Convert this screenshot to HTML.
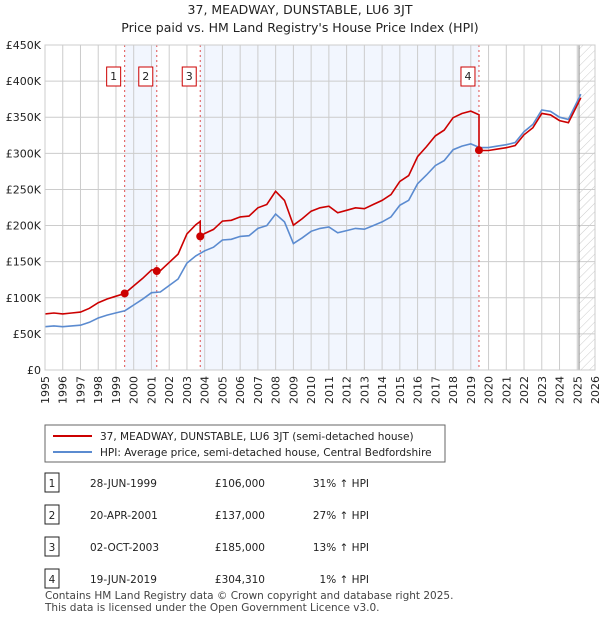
<!DOCTYPE html>
<html><head><meta charset="utf-8"><style>
body{margin:0;background:#fff;font-family:"Liberation Sans","DejaVu Sans",sans-serif;}
svg text{font-family:"DejaVu Sans","Liberation Sans",sans-serif;}
</style></head><body>
<svg id="chart" width="600" height="620" viewBox="0 0 600 620" xmlns="http://www.w3.org/2000/svg">
<defs><pattern id="hatch" width="6" height="6" patternUnits="userSpaceOnUse" patternTransform="rotate(45)"><line x1="0" y1="0" x2="0" y2="6" stroke="#ccc" stroke-width="1"/></pattern></defs>
<text x="300" y="14" text-anchor="middle" font-size="12.5" fill="#222">37, MEADWAY, DUNSTABLE, LU6 3JT</text>
<text x="300" y="32" text-anchor="middle" font-size="12.5" fill="#222">Price paid vs. HM Land Registry's House Price Index (HPI)</text>
<g id="plot"></g>
<g>
<rect x="45" y="425" width="400" height="37" fill="#fff" stroke="#666"/>
<line x1="53" y1="436" x2="92" y2="436" stroke="#cc0000" stroke-width="2"/>
<text x="100" y="440" font-size="10.5" fill="#222">37, MEADWAY, DUNSTABLE, LU6 3JT (semi-detached house)</text>
<line x1="53" y1="452" x2="92" y2="452" stroke="#5b8bd0" stroke-width="2"/>
<text x="100" y="456" font-size="10.5" fill="#222">HPI: Average price, semi-detached house, Central Bedfordshire</text>
</g>
<g id="table" font-size="10.5" fill="#222"></g>
<text x="45" y="599" font-size="10.5" fill="#444">Contains HM Land Registry data © Crown copyright and database right 2025.</text>
<text x="45" y="611" font-size="10.5" fill="#444">This data is licensed under the Open Government Licence v3.0.</text>
</svg>
<script>
const hpiYears=[1995,1995.5,1996,1996.5,1997,1997.5,1998,1998.5,1999,1999.5,2000,2000.5,2001,2001.5,2002,2002.5,2003,2003.5,2004,2004.5,2005,2005.5,2006,2006.5,2007,2007.5,2008,2008.5,2009,2009.5,2010,2010.5,2011,2011.5,2012,2012.5,2013,2013.5,2014,2014.5,2015,2015.5,2016,2016.5,2017,2017.5,2018,2018.5,2019,2019.5,2020,2020.5,2021,2021.5,2022,2022.5,2023,2023.5,2024,2024.5,2025,2025.2];
const hpiValues=[60,61,60,61,62,66,72,76,79,82,90,98,107,108,117,126,148,158,165,170,180,181,185,186,196,200,216,205,175,183,192,196,198,190,193,196,195,200,205,212,228,235,258,270,283,290,305,310,313,308,308,310,312,315,330,340,360,358,350,347,372,382];
const saleDates=[1999.49,2001.30,2003.75,2019.46];
const salePrices=[106000,137000,185000,304310];
const saleLabels=["1","2","3","4"];
const saleDateText=["28-JUN-1999","20-APR-2001","02-OCT-2003","19-JUN-2019"];
const salePriceText=["£106,000","£137,000","£185,000","£304,310"];
const saleHpiText=["31% ↑ HPI","27% ↑ HPI","13% ↑ HPI","1% ↑ HPI"];
const yTicks=[0,50,100,150,200,250,300,350,400,450];
const yTickLabels=["£0","£50K","£100K","£150K","£200K","£250K","£300K","£350K","£400K","£450K"];
const xTicks=[1995,1996,1997,1998,1999,2000,2001,2002,2003,2004,2005,2006,2007,2008,2009,2010,2011,2012,2013,2014,2015,2016,2017,2018,2019,2020,2021,2022,2023,2024,2025,2026];

const L=45,R=595,T=45,B=370,X0=1995,X1=2026,YMAX=450,dataEnd=2025.1;
const xs=v=>L+(v-X0)/(X1-X0)*(R-L);
const ys=v=>B-v/YMAX*(B-T);
const NS="http://www.w3.org/2000/svg";
const plot=document.getElementById('plot');
function mk(tag,attrs,parent){const e=document.createElementNS(NS,tag);for(const k in attrs)e.setAttribute(k,attrs[k]);(parent||plot).appendChild(e);return e;}
function hpiAt(t){for(let i=0;i<hpiYears.length-1;i++){if(t<=hpiYears[i+1]){const f=(t-hpiYears[i])/(hpiYears[i+1]-hpiYears[i]);return hpiValues[i]+f*(hpiValues[i+1]-hpiValues[i]);}}return hpiValues[hpiValues.length-1];}

let r=mk('rect',{x:L,y:T,width:R-L,height:B-T,fill:'#fff'});


[[0,1],[2,3]].forEach(p=>{const s=mk('rect',{x:xs(saleDates[p[0]]),y:T,width:xs(saleDates[p[1]])-xs(saleDates[p[0]]),height:B-T,fill:'#eef3fd',opacity:0.75});

});
let h=mk('rect',{x:xs(dataEnd),y:T,width:R-xs(dataEnd),height:B-T,fill:'url(#hatch)'});


yTicks.forEach((v,i)=>{mk('line',{x1:L,x2:R,y1:ys(v),y2:ys(v),stroke:'#ccc','stroke-width':1});
const t=mk('text',{x:L-4,y:ys(v)+4,'text-anchor':'end','font-size':11,fill:'#222'});t.textContent=yTickLabels[i];

});
xTicks.forEach(v=>{mk('line',{x1:xs(v),x2:xs(v),y1:T,y2:B,stroke:'#ccc','stroke-width':1});
const t=mk('text',{x:0,y:0,'text-anchor':'end','font-size':11,fill:'#222',transform:`translate(${xs(v)+4},${B+6}) rotate(-90)`});t.textContent=v;

});
mk('line',{x1:xs(dataEnd),x2:xs(dataEnd),y1:T,y2:B,stroke:'#888','stroke-width':1});
saleDates.forEach((d,i)=>{mk('line',{x1:xs(d),x2:xs(d),y1:T,y2:B,stroke:'#e05050','stroke-width':1,'stroke-dasharray':'2,3'});
const g=mk('g',{});

mk('rect',{x:xs(d)-18,y:67,width:14,height:19,fill:'#fff',stroke:'#cc0000'},g);
const t=mk('text',{x:xs(d)-11,y:80,'text-anchor':'middle','font-size':11,fill:'#222'},g);t.textContent=saleLabels[i];});
let hp=hpiYears.map((y,i)=>xs(y).toFixed(1)+','+ys(hpiValues[i]).toFixed(1)).join(' ');
let hl=mk('polyline',{points:hp,fill:'none',stroke:'#5b8bd0','stroke-width':1.6});


// property line: indexed from each sale
const factors=saleDates.map((d,i)=>salePrices[i]/1000/hpiAt(d));
let pts=[];
function seg(t){let k=0;for(let i=0;i<saleDates.length;i++)if(t>=saleDates[i])k=i;return k;}
let times=hpiYears.slice();saleDates.forEach(d=>{times.push(d-0.001);times.push(d);});times.sort((a,b)=>a-b);
times.forEach(t=>{pts.push(xs(t).toFixed(1)+','+ys(hpiAt(t)*factors[seg(t)]).toFixed(1));});
let pl=mk('polyline',{points:pts.join(' '),fill:'none',stroke:'#cc0000','stroke-width':1.6});


saleDates.forEach((d,i)=>{const c=mk('circle',{cx:xs(d),cy:ys(salePrices[i]/1000),r:4,fill:'#cc0000'});

});
const tb=document.getElementById('table');
const rowsY=[483,515,547,579];
saleLabels.forEach((l,i)=>{const y=rowsY[i];
mk('rect',{x:45,y:y-10,width:14,height:19,fill:'#fff',stroke:'#222'},tb);
const a=mk('text',{x:52,y:y+4,'text-anchor':'middle'},tb);a.textContent=l;
const b=mk('text',{x:90,y:y+4},tb);b.textContent=saleDateText[i];


const c=mk('text',{x:265,y:y+4,'text-anchor':'end'},tb);c.textContent=salePriceText[i];


const d=mk('text',{x:369,y:y+4,'text-anchor':'end'},tb);d.textContent=saleHpiText[i];

});
mk('rect',{x:L,y:T,width:R-L,height:B-T,fill:'none',stroke:'#ccc'});
</script>
</body></html>
